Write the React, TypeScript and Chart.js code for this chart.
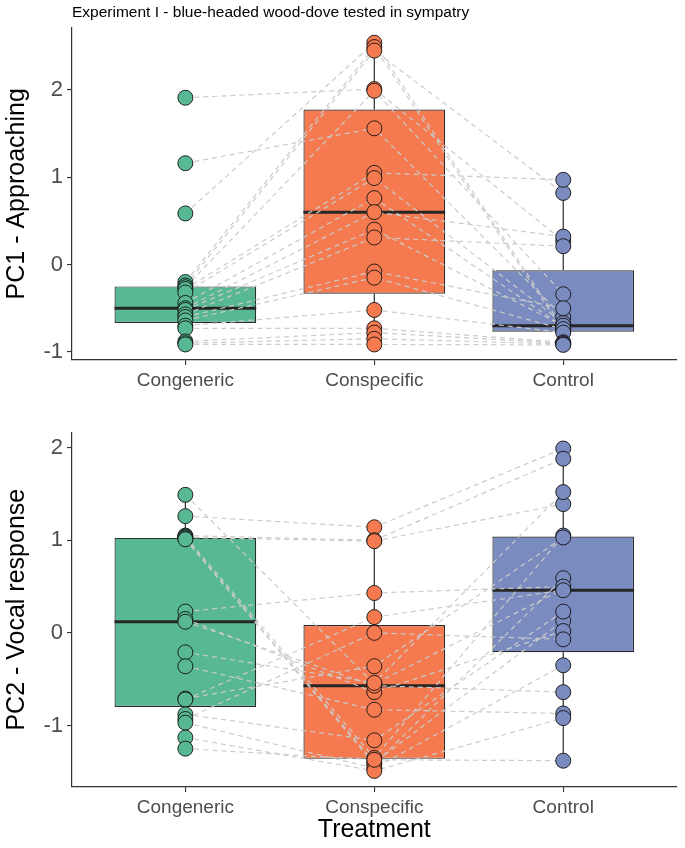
import React, { useEffect, useRef } from "react";
import { Chart, registerables } from "chart.js";

Chart.register(...registerables);

const FONT = "'Liberation Sans', Arial, Helvetica, sans-serif";

const categories = ["Congeneric", "Conspecific", "Control"];
const groupColors = ["#58b893", "#f57a4f", "#7a8bbf"];
const titleText = "Experiment I - blue-headed wood-dove tested in sympatry";
const pc1Label = "PC1 - Approaching";
const pc2Label = "PC2 - Vocal response";
const xAxisTitle = "Treatment";
const yTickValues = [-1, 0, 1, 2];

// PC1 - Approaching, one value per bird (same index = same bird)
const pc1Congeneric = [1.91, 1.16, 0.585, -0.2, -0.24, -0.26, -0.28, -0.32, -0.44, -0.5, -0.52, -0.57, -0.6, -0.64, -0.7, -0.73, -0.88, -0.9, -0.915];
const pc1Conspecific = [2.01, 1.56, 2.54, 2.49, 2.45, 1.99, 1.05, 0.99, 0.76, 0.6, 0.4, 0.31, -0.08, -0.15, -0.52, -0.73, -0.78, -0.85, -0.915];
const pc1Control = [0.27, -0.6, -0.73, -0.76, 0.82, -0.34, 0.97, -0.67, -0.71, 0.32, -0.7, 0.21, -0.5, -0.74, -0.78, -0.89, -0.9, -0.91, -0.92];

// PC2 - Vocal response
const pc2Congeneric = [1.49, 1.26, 1.05, 1.04, 1.03, 1.02, 1.01, 0.23, 0.15, 0.12, -0.21, -0.36, -0.71, -0.72, -0.88, -0.93, -0.97, -1.13, -1.25];
const pc2Conspecific = [-0.55, 1.14, 1.0, -1.35, 0.99, -1.4, -1.42, 0.43, -0.64, -0.57, -0.54, -0.83, -0.36, 0.17, -1.16, 0.0, -1.46, -1.49, -1.37];
const pc2Control = [0.47, 1.99, 1.88, 1.05, 1.39, 0.13, 0.59, 0.5, 0.02, -0.64, 1.52, -0.87, 1.03, 0.46, 0.23, -0.07, -0.35, -0.92, -1.38];

function quantile(sorted: number[], p: number) {
  const h = (sorted.length - 1) * p;
  const lo = Math.floor(h);
  const hi = Math.ceil(h);
  return sorted[lo] + (h - lo) * (sorted[hi] - sorted[lo]);
}

function boxStats(values: number[]) {
  const s = [...values].sort((a, b) => a - b);
  const q1 = quantile(s, 0.25);
  const med = quantile(s, 0.5);
  const q3 = quantile(s, 0.75);
  const iqr = q3 - q1;
  const lower = Math.min(...s.filter((v) => v >= q1 - 1.5 * iqr));
  const upper = Math.max(...s.filter((v) => v <= q3 + 1.5 * iqr));
  return { q1, med, q3, lower, upper };
}

type PanelOpts = {
  yLabel: string;
  showTitle: boolean;
  showXTitle: boolean;
  padTop: number;
  xHeight: number;
};

function buildConfig(groups: number[][], opts: PanelOpts): any {
  const all = groups.flat();
  const lo = Math.min(...all);
  const hi = Math.max(...all);
  const ex = (hi - lo) * 0.05;
  const stats = groups.map(boxStats);
  const halfBox = 0.375;
  const datasets: any[] = [];

  groups.forEach((vals, g) => {
    datasets.push({
      type: "scatter",
      data: vals.map((v) => ({ x: g + 1, y: v })),
      pointRadius: 7.5,
      pointHoverRadius: 7.5,
      pointBackgroundColor: groupColors[g],
      pointBorderColor: "#111111",
      pointBorderWidth: 0.9,
      showLine: false,
      order: 0,
    });
  });

  const n = groups[0].length;
  for (let i = 0; i < n; i++) {
    datasets.push({
      type: "line",
      data: groups.map((vals, g) => ({ x: g + 1, y: vals[i] })),
      borderColor: "#cbcbcb",
      borderWidth: 1.2,
      borderDash: [5, 4],
      pointRadius: 0,
      fill: false,
      tension: 0,
      order: 1,
    });
  }

  datasets.push({
    type: "line",
    data: stats.flatMap((s, g) => [
      { x: g + 1 - halfBox, y: s.med },
      { x: g + 1 + halfBox, y: s.med },
      { x: g + 1 + halfBox, y: null },
    ]),
    borderColor: "#262626",
    borderWidth: 3,
    borderCapStyle: "butt",
    pointRadius: 0,
    spanGaps: false,
    fill: false,
    order: 2,
  });

  datasets.push({
    type: "line",
    data: stats.flatMap((s, g) => [
      { x: g + 1, y: s.upper },
      { x: g + 1, y: s.q3 },
      { x: g + 1, y: null },
      { x: g + 1, y: s.q1 },
      { x: g + 1, y: s.lower },
      { x: g + 1, y: null },
    ]),
    borderColor: "#2b2b2b",
    borderWidth: 1.2,
    pointRadius: 0,
    spanGaps: false,
    fill: false,
    order: 3,
  });

  datasets.push({
    type: "bar",
    data: stats.map((s, g) => ({ x: g + 1, y: [s.q1, s.q3] })),
    backgroundColor: groupColors,
    borderColor: "#2b2b2b",
    borderWidth: 1.2,
    borderSkipped: false,
    categoryPercentage: 0.75,
    barPercentage: 1,
    grouped: false,
    order: 4,
  });

  const gridOpts = {
    display: true,
    offset: false,
    drawOnChartArea: false,
    drawTicks: true,
    tickLength: 5,
    color: "#333333",
    lineWidth: 1.1,
  };
  const borderOpts = { display: true, color: "#333333", width: 1.2 };

  return {
    type: "scatter",
    data: { datasets },
    options: {
      responsive: false,
      animation: false,
      events: [],
      layout: { padding: { top: opts.padTop, right: 3, bottom: 0, left: 0 } },
      plugins: {
        legend: { display: false },
        tooltip: { enabled: false },
        title: {
          display: opts.showTitle,
          text: titleText,
          align: "start",
          fullSize: false,
          color: "#000000",
          font: { family: FONT, size: 15.5, weight: "normal" },
          padding: { top: 3, bottom: 6 },
        },
      },
      scales: {
        x: {
          type: "linear",
          position: "bottom",
          offset: false,
          min: 0.4,
          max: 3.6,
          afterBuildTicks: (s: any) => {
            s.ticks = categories.map((_, i) => ({ value: i + 1 }));
          },
          afterFit: (s: any) => {
            s.height = opts.xHeight;
            s.paddingLeft = 0;
            s.paddingRight = 0;
          },
          ticks: {
            autoSkip: false,
            maxRotation: 0,
            padding: 4,
            color: "#4d4d4d",
            font: { family: FONT, size: 19 },
            callback: (_v: any, i: number) => categories[i],
          },
          grid: gridOpts,
          border: borderOpts,
          title: {
            display: opts.showXTitle,
            text: xAxisTitle,
            color: "#000000",
            font: { family: FONT, size: 25 },
            padding: { top: 0, bottom: 3 },
          },
        },
        y: {
          type: "linear",
          position: "left",
          beginAtZero: false,
          min: lo - ex,
          max: hi + ex,
          afterBuildTicks: (s: any) => {
            s.ticks = yTickValues.map((v) => ({ value: v }));
          },
          afterFit: (s: any) => {
            s.width = 72;
            s.paddingTop = 0;
            s.paddingBottom = 0;
          },
          ticks: {
            padding: 4,
            color: "#4d4d4d",
            font: { family: FONT, size: 22 },
            callback: (v: any) => String(v),
          },
          grid: gridOpts,
          border: borderOpts,
          title: {
            display: true,
            text: opts.yLabel,
            color: "#000000",
            font: { family: FONT, size: 25 },
            padding: { top: 2, bottom: 0 },
          },
        },
      },
    },
  };
}

export default function App() {
  const topRef = useRef<HTMLCanvasElement | null>(null);
  const botRef = useRef<HTMLCanvasElement | null>(null);

  useEffect(() => {
    Chart.defaults.font.family = FONT;
    const top = new Chart(
      topRef.current as HTMLCanvasElement,
      buildConfig([pc1Congeneric, pc1Conspecific, pc1Control], {
        yLabel: pc1Label,
        showTitle: true,
        showXTitle: false,
        padTop: 0,
        xHeight: 64,
      })
    );
    const bot = new Chart(
      botRef.current as HTMLCanvasElement,
      buildConfig([pc2Congeneric, pc2Conspecific, pc2Control], {
        yLabel: pc2Label,
        showTitle: false,
        showXTitle: true,
        padTop: 6,
        xHeight: 61,
      })
    );
    return () => {
      top.destroy();
      bot.destroy();
    };
  }, []);

  return (
    <div style={{ position: "absolute", left: 0, top: 0, width: 685, height: 848, background: "#ffffff" }}>
      <canvas ref={topRef} width={685} height={424} style={{ display: "block", position: "absolute", left: 0, top: 0 }} />
      <canvas ref={botRef} width={685} height={424} style={{ display: "block", position: "absolute", left: 0, top: 424 }} />
    </div>
  );
}
